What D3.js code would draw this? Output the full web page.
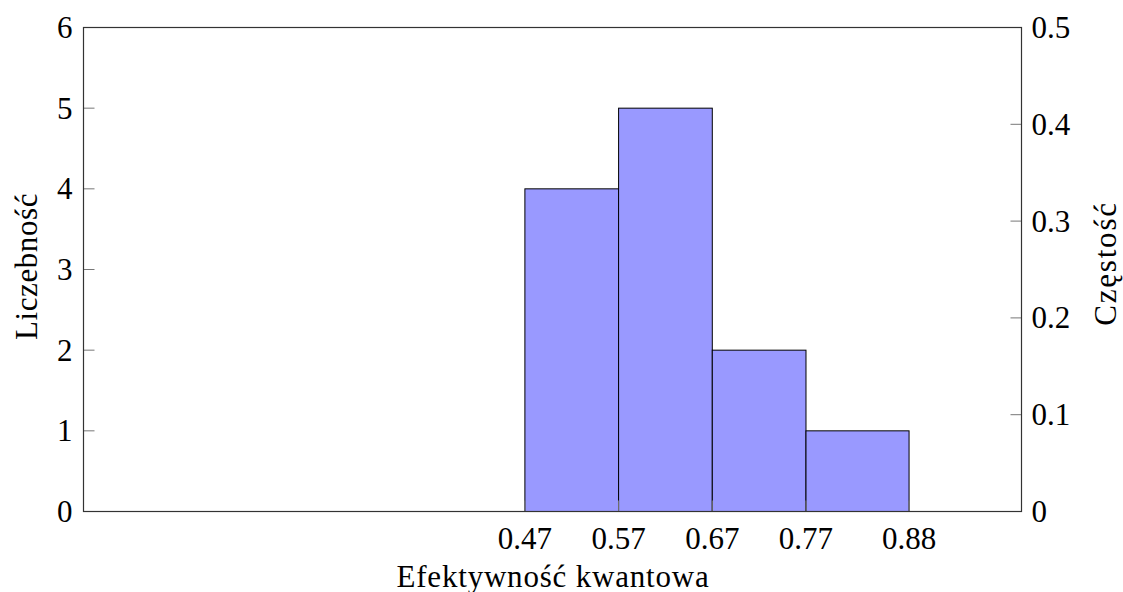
<!DOCTYPE html>
<html>
<head>
  <meta charset="UTF-8">
  <style>
    body { margin: 0; background: #fff; }
    .bar { fill: #9999ff; stroke: #000; stroke-width: 1px; }
    .frame { fill: none; stroke: #333; stroke-width: 1.2px; }
    .tick { stroke: #777; stroke-width: 1px; }
  </style>
</head>
<body>
<svg id="chart" width="1123" height="592"></svg>
<script src="https://d3js.org/d3.v7.min.js"></script>
<script>
// histogram bins and counts
var binEdges = [0.47, 0.57, 0.67, 0.77, 0.88];
var counts = [4, 5, 2, 1];
var leftTicks = [0, 1, 2, 3, 4, 5, 6];
var rightTicks = [0, 0.1, 0.2, 0.3, 0.4, 0.5];
var xLabel = "Efektywność kwantowa";
var yLabelLeft = "Liczebność";
var yLabelRight = "Częstość";

var total = d3.sum(counts);
var FONT = "'Liberation Serif', 'Times New Roman', serif";

var margin = {left: 83.5, top: 27.5, right: 101.5, bottom: 80.5};
var width = 1123 - margin.left - margin.right,
    height = 592 - margin.top - margin.bottom;

var svg = d3.select("#chart");
var g = svg.append("g")
    .attr("transform", "translate(" + margin.left + "," + margin.top + ")");

var x = d3.scaleLinear().domain([0, 1]).range([1, width]);
var y = d3.scaleLinear().domain([0, 6]).range([height, 0]);
var y2 = d3.scaleLinear().domain([0, 6 / total]).range([height, 0]);

var bins = counts.map(function(c, i) {
  return {x0: binEdges[i], x1: binEdges[i + 1], n: c};
});

function label(sel) {
  return sel.style("font-family", FONT).style("font-size", "31px").style("fill", "#000");
}

// bars
g.selectAll(".bar")
  .data(bins)
  .enter()
  .append("rect")
  .attr("class", "bar")
  .attr("x", d => x(d.x0))
  .attr("width", d => x(d.x1) - x(d.x0))
  .attr("y", d => y(d.n))
  .attr("height", d => y(0) - y(d.n));

var tickLen = 11;

// left ticks (inside)
g.selectAll(".lt")
  .data(leftTicks)
  .enter()
  .append("line")
  .attr("class", "tick")
  .attr("x1", 0).attr("x2", tickLen)
  .attr("y1", d => y(d)).attr("y2", d => y(d));

g.selectAll(".ll")
  .data(leftTicks)
  .enter()
  .append("text")
  .attr("x", -11)
  .attr("y", d => y(d))
  .attr("dy", "0.34em")
  .attr("text-anchor", "end")
  .call(label)
  .text(d => d);

// right ticks
g.selectAll(".rt")
  .data(rightTicks)
  .enter()
  .append("line")
  .attr("class", "tick")
  .attr("x1", width).attr("x2", width - tickLen)
  .attr("y1", d => y2(d)).attr("y2", d => y2(d));

g.selectAll(".rl")
  .data(rightTicks)
  .enter()
  .append("text")
  .attr("x", width + 10)
  .attr("y", d => y2(d))
  .attr("dy", "0.34em")
  .attr("text-anchor", "start")
  .call(label)
  .text(d => d === 0 ? "0" : d3.format(".1f")(d));

// bottom ticks at bin edges
g.selectAll(".bt")
  .data(binEdges)
  .enter()
  .append("line")
  .attr("class", "tick")
  .attr("x1", d => x(d)).attr("x2", d => x(d))
  .attr("y1", height).attr("y2", height - tickLen);

g.selectAll(".bl")
  .data(binEdges)
  .enter()
  .append("text")
  .attr("x", d => x(d))
  .attr("y", height + 37)
  .attr("text-anchor", "middle")
  .call(label)
  .text(d => d3.format(".2f")(d));

// frame
g.append("rect")
  .attr("class", "frame")
  .attr("x", 0).attr("y", 0)
  .attr("width", width).attr("height", height);

// axis titles
g.append("text")
  .attr("x", x(0.5))
  .attr("y", height + 75)
  .attr("text-anchor", "middle")
  .call(label)
  .style("letter-spacing", "0.8px")
  .text(xLabel);

g.append("text")
  .attr("transform", "translate(" + (-47) + "," + (height / 2 - 3) + ") rotate(-90)")
  .attr("text-anchor", "middle")
  .call(label)
  .style("letter-spacing", "0.6px")
  .text(yLabelLeft);

g.append("text")
  .attr("transform", "translate(" + (width + 94) + "," + (height / 2 - 6) + ") rotate(-90)")
  .attr("text-anchor", "middle")
  .call(label)
  .style("letter-spacing", "1.8px")
  .text(yLabelRight);
</script>
</body>
</html>
